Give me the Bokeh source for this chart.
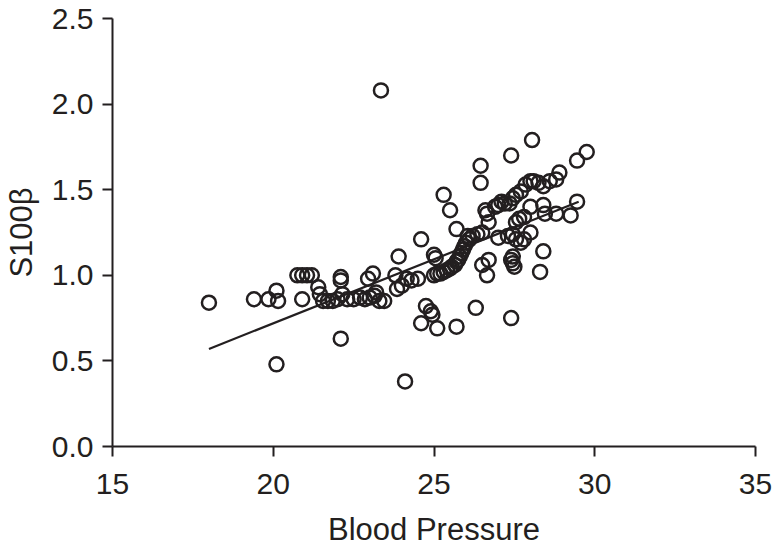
from bokeh.plotting import figure
from bokeh.models import Range1d, FixedTicker, NumeralTickFormatter
from bokeh.embed import file_html
from bokeh.resources import INLINE

# Data
bp = [18.0, 19.4, 19.85, 20.1, 20.15, 20.1, 20.75, 20.9, 21.05, 21.2, 20.9, 21.4, 21.45,
      21.55, 21.7, 21.85, 22.0, 22.1, 22.1, 22.1, 22.15, 22.3, 22.5, 22.7, 22.85, 23.0,
      23.15, 23.3, 23.45, 22.95, 23.1, 23.2, 23.35, 23.8, 23.9, 23.85, 24.0, 24.1, 24.15,
      24.3, 24.5, 24.6, 24.75, 24.9, 24.95, 24.6, 25.1, 25.7, 26.3, 27.4, 25.0, 25.05,
      25.0, 25.1, 25.2, 25.3, 25.4, 25.5, 25.55, 25.65, 25.7, 25.75, 25.8, 25.85, 25.9,
      25.95, 26.0, 26.1, 26.2, 26.35, 26.5,
      25.3, 25.5, 25.7, 26.05, 26.45, 26.45, 26.6, 26.65, 26.7, 26.5, 26.7, 26.65,
      26.9, 27.0, 27.1, 27.2, 27.35, 27.45, 27.55, 27.7, 27.85, 28.0, 28.1, 28.25, 28.4,
      28.6, 28.8, 28.9, 27.0, 27.3, 27.45, 27.55, 27.7, 27.8, 28.0, 27.55, 27.65, 27.8,
      27.4, 27.45, 27.5, 27.45, 28.0, 28.4, 28.45, 28.8, 29.25, 29.45, 28.4, 28.3,
      27.4, 28.05, 29.45, 29.75]
s100b = [0.84, 0.86, 0.86, 0.91, 0.85, 0.48, 1.00, 1.00, 1.00, 1.00, 0.86, 0.93, 0.89,
         0.85, 0.85, 0.85, 0.86, 0.63, 0.99, 0.97, 0.89, 0.86, 0.86, 0.87, 0.86, 0.87,
         0.88, 0.85, 0.85, 0.98, 1.01, 0.90, 2.08, 1.00, 1.11, 0.92, 0.94, 0.38, 0.98,
         0.97, 0.98, 1.21, 0.82, 0.79, 0.77, 0.72, 0.69, 0.70, 0.81, 0.75, 1.12, 1.10,
         1.00, 1.01, 1.01, 1.02, 1.03, 1.04, 1.05, 1.06, 1.08, 1.09, 1.11, 1.13, 1.15,
         1.17, 1.19, 1.21, 1.23, 1.24, 1.25,
         1.47, 1.38, 1.27, 1.23, 1.64, 1.54, 1.38, 1.36, 1.31, 1.06, 1.09, 1.00,
         1.40, 1.41, 1.43, 1.42, 1.42, 1.45, 1.47, 1.49, 1.53, 1.55, 1.55, 1.54, 1.52,
         1.55, 1.56, 1.60, 1.22, 1.23, 1.24, 1.21, 1.19, 1.21, 1.25, 1.31, 1.33, 1.34,
         1.09, 1.07, 1.05, 1.11, 1.40, 1.41, 1.36, 1.36, 1.35, 1.43, 1.14, 1.02,
         1.70, 1.79, 1.67, 1.72]

fit_x = [18.0, 29.5]
fit_y = [0.57, 1.43]

x_ticks = [15, 20, 25, 30, 35]
y_ticks = [0.0, 0.5, 1.0, 1.5, 2.0, 2.5]

INK = "#231f20"
FONT = "Liberation Sans"

p = figure(width=773, height=551, output_backend="svg", toolbar_location=None,
           x_range=Range1d(15, 35), y_range=Range1d(0, 2.5),
           min_border_left=112, min_border_right=18, min_border_top=18,
           min_border_bottom=105)
p.outline_line_color = None
p.xgrid.visible = False
p.ygrid.visible = False
p.background_fill_color = "white"

p.line(fit_x, fit_y, line_color=INK, line_width=2.2)
p.scatter(bp, s100b, marker="circle", size=14, fill_color=None,
          line_color=INK, line_width=2.5)

for ax in (p.xaxis[0], p.yaxis[0]):
    ax.axis_line_color = INK
    ax.axis_line_width = 2
    ax.major_tick_line_color = INK
    ax.major_tick_line_width = 2
    ax.major_tick_out = 10
    ax.major_tick_in = 0
    ax.minor_tick_line_color = None
    ax.major_label_text_font = FONT
    ax.major_label_text_font_size = "30px"
    ax.major_label_text_color = INK
    ax.axis_label_text_font = FONT
    ax.axis_label_text_font_size = "31px"
    ax.axis_label_text_font_style = "normal"
    ax.axis_label_text_color = INK

p.xaxis.ticker = FixedTicker(ticks=x_ticks)
p.yaxis.ticker = FixedTicker(ticks=y_ticks)
p.yaxis.formatter = NumeralTickFormatter(format="0.0")
p.xaxis.axis_label = "Blood Pressure"
p.yaxis.axis_label = "S100β"
p.xaxis.major_label_standoff = 17
p.xaxis.axis_label_standoff = 15
p.yaxis.major_label_standoff = 9
p.yaxis.axis_label_standoff = 10

open("out.html", "w").write(file_html(p, INLINE))
